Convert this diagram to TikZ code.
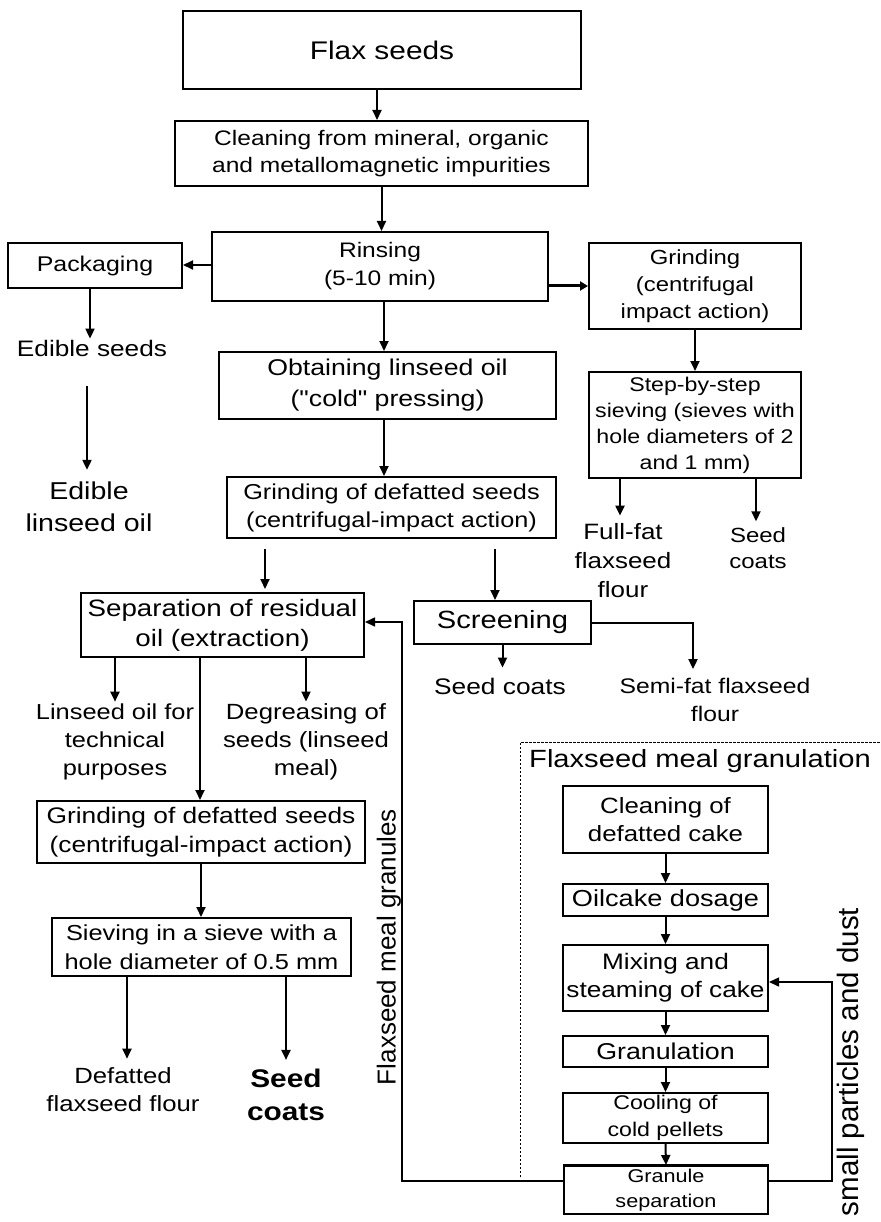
\documentclass[tikz,border=0pt]{standalone}
\usepackage{fontspec}
\setmainfont{Liberation Sans}[FakeStretch=1.17]
\newfontfamily\rotfont{Liberation Sans}
\newfontfamily\qfont{Liberation Sans}[FakeStretch=1.17,Ligatures=ResetAll]
\usetikzlibrary{arrows.meta,calc}
\newcommand\fz[2]{\fontsize{#1}{#2}\selectfont}
\begin{document}
\begin{tikzpicture}[x=1pt,y=-1pt,
  bx/.style 2 args={draw, line width=2pt, minimum width=#1, minimum height=#2, inner sep=0pt, align=center},
  tx/.style={inner sep=2pt, align=center},
  arr/.style={line width=2pt, -{Triangle[length=10pt,width=9pt]}},
  fb/.style={line width=1.5pt, -{Triangle[length=10pt,width=9pt]}},
  ln/.style={line width=1.5pt}]
\useasboundingbox (0,0) rectangle (880,1222);
\fill[white] (0,0) rectangle (880,1222);

% boxes
\node[bx={398}{78}, font=\fz{25.5}{32}] (flax) at (382,50) {Flax seeds};
\node[bx={413}{65}, font=\fz{21}{27}] (clean) at (381.5,153.5) {Cleaning from mineral, organic\\and metallomagnetic impurities};
\node[bx={336}{69}, font=\fz{21}{28}] (rinse) at (380,266.5) {Rinsing\\(5-10 min)};
\node[bx={174}{45}, font=\fz{21.3}{27}] (pack) at (95,265.5) {Packaging};
\node[bx={212}{86}, font=\fz{20.4}{27}] (grind1) at (695,286) {Grinding\\(centrifugal\\impact action)};
\node[bx={337}{67}, font=\fz{22.8}{31}] (obtain) at (387.5,385.5) {Obtaining linseed oil\\({\qfont"cold"} pressing)};
\node[bx={329}{61}, font=\fz{21.6}{28}] (grind2) at (391.5,507.5) {Grinding of defatted seeds\\(centrifugal-impact action)};
\node[bx={212}{106}, font=\fz{19.8}{26}] (step) at (695,425) {Step-by-step\\sieving (sieves with\\hole diameters of 2\\and 1 mm)};
\node[bx={283}{64}, font=\fz{23.7}{30}] (sep) at (222.5,625) {Separation of residual\\oil (extraction)};
\node[bx={177}{43}, font=\fz{24.9}{30}] (screen) at (502.5,622.5) {Screening};
\node[bx={328}{62}, font=\fz{22.5}{29}] (grind3) at (201,832) {Grinding of defatted seeds\\(centrifugal-impact action)};
\node[bx={299}{58}, font=\fz{21.7}{29}] (sieve) at (201.5,947) {Sieving in a sieve with a\\hole diameter of 0.5 mm};
\node[bx={205}{67}, font=\fz{22.1}{28}] (cake) at (665.5,819.5) {Cleaning of\\defatted cake};
\node[bx={205}{32}, font=\fz{23.2}{28}] (dosage) at (665.5,900) {Oilcake dosage};
\node[bx={205}{66}, font=\fz{22.4}{28}] (mixing) at (665.5,978) {Mixing and\\steaming of cake};
\node[bx={205}{31}, font=\fz{22.9}{28}] (granul) at (665.5,1051.5) {Granulation};
\node[bx={205}{50}, font=\fz{19.8}{27}] (cooling) at (665.5,1118) {Cooling of\\cold pellets};
\node[bx={204}{48}, font=\fz{18.5}{25}] (gsep) at (666,1190) {Granule\\separation};
\draw[line width=3pt] (gsep.north west) -- (gsep.north east);

% text labels
\node[tx, font=\fz{22.4}{28}] (edseeds) at (92,348) {Edible seeds};
\node[tx, font=\fz{24.4}{32}] (edoil) at (89,507) {Edible\\linseed oil};
\node[tx, font=\fz{22.2}{29}] (fullfat) at (623,561) {Full-fat\\flaxseed\\flour};
\node[tx, font=\fz{20.5}{26}] (scoats1) at (758,548) {Seed\\coats};
\node[tx, font=\fz{22.5}{28}] (scoats2) at (500,686) {Seed coats};
\node[tx, font=\fz{21.1}{28}] (semifat) at (715,700) {Semi-fat flaxseed\\flour};
\node[tx, font=\fz{21.7}{28}] (linoil) at (115,742) {Linseed oil for\\technical\\purposes};
\node[tx, font=\fz{22}{28}] (degrease) at (306,742) {Degreasing of\\seeds (linseed\\meal)};
\node[tx, font=\fz{22}{28}] (defatted) at (123,1090) {Defatted\\flaxseed flour};
\node[tx, font=\bfseries\fz{25.5}{33}] (seedcoats) at (286,1095) {Seed\\coats};
\node[tx, font=\fz{24.9}{30}, anchor=west] (fmgtitle) at (527,761) {Flaxseed meal granulation};
\node[tx, rotate=90, font=\rotfont\fz{26}{30}] (fmgr) at (389,947) {Flaxseed meal granules};
\node[tx, rotate=90, font=\rotfont\fz{29.5}{34}] (spd) at (851,1062) {small particles and dust};

% dashed frame
\draw[line width=1pt, dash pattern=on 2.5pt off 1.5pt] (520,1177) -- (520,742) -- (880,742);

% connectors
\draw[arr] ([xshift=-5pt]flax.south) -- ([xshift=-4.5pt]clean.north);
\draw[arr] (clean.south) -- (clean.south |- rinse.north);
\draw[arr] ([yshift=1.5pt]rinse.west) -- ([yshift=1.5pt]rinse.west -| pack.east);
\draw[line width=3pt, -{Triangle[length=8pt,width=9pt]}] (grind1.west -| rinse.east) -- (grind1.west);
\draw[arr] ([xshift=-5pt]pack.south) -- ([xshift=-2pt,yshift=-1pt]edseeds.north);
\draw[arr] ([xshift=-5pt,yshift=-28pt]edseeds.south) -- ([xshift=-2pt,yshift=10pt]edoil.north);
\draw[arr] ([xshift=4pt]rinse.south) -- ([xshift=4pt]rinse.south |- obtain.north);
\draw[arr] ([xshift=-3.5pt]obtain.south) -- ([xshift=-3.5pt]obtain.south |- grind2.north);
\draw[arr] (grind1.south) -- (step.north);
\draw[arr] ([xshift=-75pt]step.south) -- ([xshift=-75pt,yshift=6pt]step.south |- fullfat.north);
\draw[arr] ([xshift=61pt]step.south) -- ([xshift=61pt,yshift=4pt]step.south |- scoats1.north);
\draw[arr] ([xshift=-126.5pt,yshift=-10pt]grind2.south) -- ([xshift=-126.5pt,yshift=3pt]grind2.south |- sep.north);
\draw[arr] ([xshift=103.5pt,yshift=-10pt]grind2.south) -- ([xshift=103.5pt]grind2.south |- screen.north);
\draw[arr] (screen.south) -- ([yshift=8pt]screen.south |- scoats2.north);
\draw[arr] (screen.east) -| ([xshift=-22pt,yshift=7pt]semifat.north);
\draw[arr] (sep.south -| linoil.north) -- (linoil.north);
\draw[arr] ([xshift=-1pt]sep.south -| grind3.north) -- ([xshift=-1pt]grind3.north);
\draw[arr] (sep.south -| degrease.north) -- (degrease.north);
\draw[arr] (grind3.south) -- (grind3.south |- sieve.north);
\draw[arr] ([xshift=-74.5pt]sieve.south) -- ([xshift=-74.5pt,yshift=7pt]sieve.south |- defatted.north);
\draw[arr] (sieve.south -| seedcoats.north) -- ([yshift=7pt]seedcoats.north);
\draw[arr] (cake.south) -- (dosage.north);
\draw[arr] (dosage.south) -- (mixing.north);
\draw[arr] (mixing.south) -- (granul.north);
\draw[arr] (granul.south) -- (cooling.north);
\draw[arr] (cooling.south) -- (gsep.north);

% feedback loops
\coordinate (fbL) at (402,1181);
\coordinate (fbR) at (832,1181);
\draw[fb] (gsep.west |- fbL) -- (fbL) -- ([yshift=3pt]fbL |- sep.east) -- ([yshift=3pt]sep.east);
\draw[fb] (gsep.east |- fbR) -- (fbR) -- ([yshift=-4pt]fbR |- mixing.east) -- ([yshift=-4pt]mixing.east);
\end{tikzpicture}
\end{document}
